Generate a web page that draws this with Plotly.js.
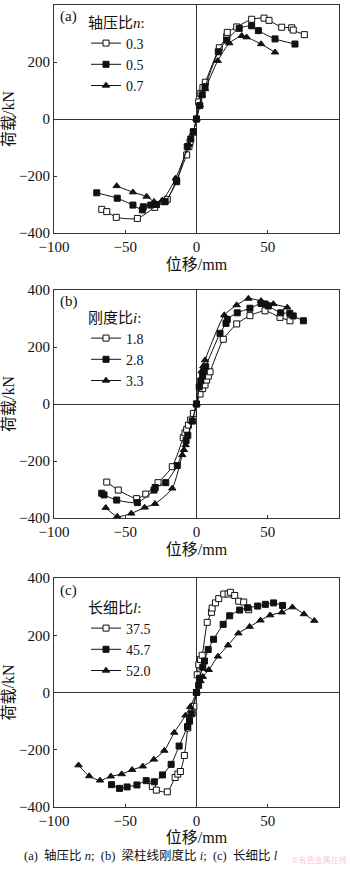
<!DOCTYPE html>
<html>
<head>
<meta charset="utf-8">
<script src="https://cdn.plot.ly/plotly-3.0.1.min.js"></script>
<style>html,body{margin:0;padding:0;background:#fff;}#chart{width:350px;height:870px;}</style>
</head>
<body>
<div id="chart"></div>
<script>
// ---- Panel (a): axial compression ratio n ----
const n03_x = [-66.5,-63,-56.3,-41.5,-29.3,-22.8,-20.5,-14,-6.9,-5.3,-4.5,-2.2,0,1.5,3,4.5,6.2,16,21.2,21.6,28.2,38.7,47.4,50.9,59.8,66.8,67.9,75.7];
const n03_y = [-317,-325,-345,-349,-310,-290,-282,-215,-126,-97,-80,-45,0,60,90,110,129,250,289,304,323,350,354,346,322,320,312,296];
const n05_x = [-70,-55.6,-44.6,-38,-37.3,-32.1,-28,-22,-13.9,-6.5,-4,-2.2,0,2.3,4,6,15.3,21.2,30,38.7,43.4,55.1,69.1];
const n05_y = [-259,-278,-302,-319,-308,-302,-300,-290,-220,-97,-70,-45,0,47,85,113,236,277,318,327,310,281,263];
const n07_x = [-56,-44.6,-35,-29.8,-24,-14.6,-5.3,-2.5,0,2.4,3.6,6,14.9,23,31.7,35.2,45.3,55.1];
const n07_y = [-235,-257,-272,-290,-285,-208,-90,-50,0,49,84,105,204,266,292,287,263,234];

// ---- Panel (b): beam-column stiffness ratio i ----
const i18_x = [-63,-54.9,-42,-35.6,-27,-17,-9.3,-8.1,-6.9,-5.7,-4.1,-2.2,0,2.5,4.3,6,7.1,8.3,9.5,18.8,28.2,37.5,48.1,58.6,65.6];
const i18_y = [-274,-302,-332,-316,-276,-220,-118,-101,-89,-74,-56,-33,0,35,54,67,84,98,113,227,281,310,327,304,292];
const i28_x = [-66.5,-64.9,-56,-41.5,-29.8,-29,-21.6,-13.5,-7.3,-6.1,-3,0,1.9,3,4.3,5.3,6.4,16.5,20.7,21.6,28.6,37.5,45.3,48.1,50.4,59.1,65.5,67.9,75];
const i28_y = [-313,-319,-337,-346,-302,-293,-276,-216,-128,-110,-60,0,60,81,98,115,131,248,283,297,320,336,353,351,344,320,318,309,292];
const i33_x = [-63.7,-55.6,-45.8,-36.4,-29.1,-17,-10,-8.8,-7.6,-3,0,3.6,4.8,6,19.5,28.2,36.4,45.3,53.9,63.7];
const i33_y = [-364,-395,-384,-363,-350,-296,-179,-161,-144,-60,0,115,133,154,312,347,370,362,351,339];

// ---- Panel (c): slenderness ratio l ----
const l375_x = [-31,-28.2,-20.5,-15,-13.1,-11.3,-8.5,-6.1,-4.9,-3,-1.9,0,0.5,1.6,2.8,4,7.5,10.5,11,13.3,15.6,19.1,22.2,23.8,26.8,29.6,33.1,36.6];
const l375_y = [-328,-341,-347,-297,-285,-276,-220,-124,-100,-72,-48,0,62,97,115,130,245,280,295,313,328,344,344,350,339,319,316,289];
const l457_x = [-59.6,-54,-48.7,-41.8,-35.3,-29.6,-23.9,-17.8,-12.2,-6.3,-4.9,-3.7,0,1.5,2.1,4.4,5.6,8.2,12,18.7,23.3,30.3,35.9,42.9,48.3,54.1,60.4];
const l457_y = [-322,-335,-330,-323,-308,-312,-288,-251,-187,-119,-99,-75,0,25,50,88,110,150,186,238,268,288,296,302,308,313,304];
const l520_x = [-82.8,-75.3,-67.7,-60.1,-52.5,-45.2,-37.7,-29.9,-22.6,-15.6,-7.7,-4.4,0,2.8,4.4,8.6,15,22.2,29.4,37.3,44.9,51.7,59.9,67.3,75.4,82.7];
const l520_y = [-254,-292,-307,-293,-285,-270,-258,-234,-203,-140,-80,-50,0,40,55,79,126,165,207,230,252,270,280,298,274,251];

const labelsA = ['0.3','0.5','0.7'];
const labelsB = ['1.8','2.8','3.3'];
const labelsC = ['37.5','45.7','52.0'];
const legendTitles = ['轴压比<i>n</i>:','刚度比<i>i</i>:','长细比<i>l</i>:'];
const panelLabels = ['(a)','(b)','(c)'];
const xTitle = '位移/mm';
const yTitle = '荷载/kN';
const caption = '(a)&nbsp;&nbsp;轴压比&nbsp;<i>n</i>;&nbsp;&nbsp;(b)&nbsp;&nbsp;梁柱线刚度比&nbsp;<i>i</i>;&nbsp;&nbsp;(c)&nbsp;&nbsp;长细比&nbsp;<i>l</i>';

const FONT = 'Liberation Serif, DejaVu Serif, Noto Sans CJK SC, serif';

function mk(x, y, name, k, xa, ya, leg) {
  return {
    x: x, y: y, name: name, type: 'scatter', mode: 'lines+markers',
    xaxis: xa, yaxis: ya, legend: leg,
    line: {color: '#111', width: 1, shape: 'spline', smoothing: 0.6},
    marker: {symbol: k === 2 ? 'triangle-up' : 'square', size: k === 2 ? 6.5 : 6,
             color: k === 0 ? '#fff' : '#111', line: {color: '#111', width: 1}},
    cliponaxis: false
  };
}

const data = [
  mk(n03_x, n03_y, labelsA[0], 0, 'x', 'y', 'legend'),
  mk(n05_x, n05_y, labelsA[1], 1, 'x', 'y', 'legend'),
  mk(n07_x, n07_y, labelsA[2], 2, 'x', 'y', 'legend'),
  mk(i18_x, i18_y, labelsB[0], 0, 'x2', 'y2', 'legend2'),
  mk(i28_x, i28_y, labelsB[1], 1, 'x2', 'y2', 'legend2'),
  mk(i33_x, i33_y, labelsB[2], 2, 'x2', 'y2', 'legend2'),
  mk(l375_x, l375_y, labelsC[0], 0, 'x3', 'y3', 'legend3'),
  mk(l457_x, l457_y, labelsC[1], 1, 'x3', 'y3', 'legend3'),
  mk(l520_x, l520_y, labelsC[2], 2, 'x3', 'y3', 'legend3')
];

const W = 350, H = 870;
const xdom = [54/W, 339/W];
const ydoms = [[1-233/H, 1-5/H], [1-518/H, 1-290/H], [1-807/H, 1-578/H]];

function xax(anchor, standoff) {
  return {
    domain: xdom, range: [-100, 100], dtick: 50, tick0: 0, anchor: anchor,
    ticks: 'inside', ticklen: 3, tickcolor: '#333', showline: true, mirror: true,
    linecolor: '#333', linewidth: 1, showgrid: false,
    zeroline: true, zerolinecolor: '#333', zerolinewidth: 1,
    tickfont: {family: FONT, size: 15, color: '#111'},
    title: {text: xTitle, font: {family: FONT, size: 16, color: '#111'}, standoff: standoff}
  };
}
function yax(anchor, dom) {
  return {
    domain: dom, range: [-400, 400], dtick: 200, tick0: 0, anchor: anchor,
    ticks: 'inside', ticklen: 3, tickcolor: '#333', showline: true, mirror: true,
    linecolor: '#333', linewidth: 1, showgrid: false,
    zeroline: true, zerolinecolor: '#333', zerolinewidth: 1,
    tickfont: {family: FONT, size: 15, color: '#111'},
    title: {text: yTitle, font: {family: FONT, size: 16, color: '#111'}, standoff: 2}
  };
}
function leg(title, ytop) {
  return {
    x: 86/W, y: 1 - ytop/H, xanchor: 'left', yanchor: 'top',
    bgcolor: 'rgba(0,0,0,0)', borderwidth: 0,
    font: {family: FONT, size: 14, color: '#111'},
    title: {text: title, font: {family: FONT, size: 15, color: '#111'}, side: 'top'},
    itemwidth: 30, tracegroupgap: 0
  };
}

const annotations = [];
const labelY = [17, 302, 590];
for (let i = 0; i < 3; i++) {
  annotations.push({xref: 'paper', yref: 'paper', x: 58/W, y: 1 - labelY[i]/H, xanchor: 'left', yanchor: 'middle',
    text: panelLabels[i], showarrow: false, font: {family: FONT, size: 15, color: '#111'}});
}
annotations.push({xref: 'paper', yref: 'paper', x: 22/W, y: 1 - 855/H, xanchor: 'left', yanchor: 'middle',
  text: caption, showarrow: false, font: {family: FONT, size: 12.5, color: '#111'}});
annotations.push({xref: 'paper', yref: 'paper', x: 349/W, y: 1 - 859/H, xanchor: 'right', yanchor: 'middle',
  text: '©有色金属在线', showarrow: false, font: {family: 'Noto Sans CJK SC, sans-serif', size: 8, color: 'rgba(235,120,150,0.45)'}});

const layout = {
  width: W, height: H, margin: {l: 0, r: 0, t: 0, b: 0, pad: 0},
  paper_bgcolor: '#fff', plot_bgcolor: '#fff', showlegend: true,
  font: {family: FONT, color: '#111'},
  xaxis: xax('y', 4), yaxis: yax('x', ydoms[0]),
  xaxis2: xax('y2', 4), yaxis2: yax('x2', ydoms[1]),
  xaxis3: xax('y3', 2), yaxis3: yax('x3', ydoms[2]),
  legend: leg(legendTitles[0], 8),
  legend2: leg(legendTitles[1], 303),
  legend3: leg(legendTitles[2], 593),
  annotations: annotations
};

Plotly.newPlot('chart', data, layout, {staticPlot: true, displayModeBar: false});
</script>
</body>
</html>
